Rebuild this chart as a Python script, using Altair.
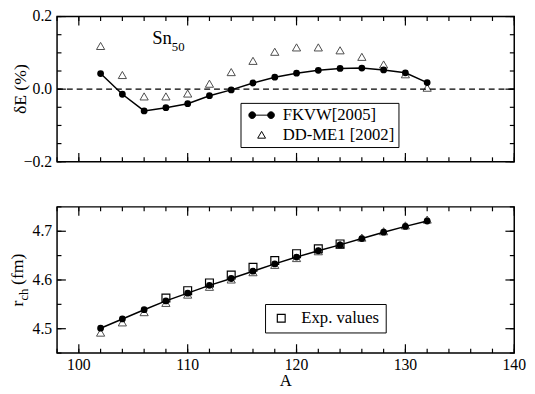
import altair as alt
import pandas as pd

# ---------------- data ----------------
A = [102, 104, 106, 108, 110, 112, 114, 116, 118, 120, 122, 124, 126, 128, 130, 132]
fkvw_dE = [0.043, -0.014, -0.060, -0.051, -0.040, -0.018, -0.002, 0.017, 0.033,
           0.044, 0.052, 0.057, 0.058, 0.053, 0.045, 0.018]
ddme1_dE = [0.119, 0.039, -0.020, -0.020, -0.012, 0.015, 0.047, 0.078, 0.103,
            0.115, 0.115, 0.107, 0.089, 0.068, 0.041, 0.004]
fkvw_r = [4.501, 4.520, 4.539, 4.557, 4.573, 4.589, 4.603, 4.618, 4.633,
          4.647, 4.660, 4.672, 4.685, 4.698, 4.710, 4.721]
ddme1_r = [4.492, 4.513, 4.534, 4.553, 4.570, 4.586, 4.601, 4.616, 4.631,
           4.645, 4.659, 4.672, 4.687, 4.700, 4.712, 4.724]
A_exp = [108, 110, 112, 114, 116, 118, 120, 122, 124]
exp_r = [4.563, 4.578, 4.594, 4.610, 4.626, 4.640, 4.654, 4.664, 4.674]

series_top = ["FKVW[2005]", "DD-ME1 [2002]"]
series_exp = ["Exp. values"]

x_dom = [98, 140]
y1_dom = [-0.2, 0.2]
y2_dom = [4.45, 4.75]
x_major = [100, 110, 120, 130, 140]
x_minor = [98, 100, 102, 104, 106, 108, 110, 112, 114, 116, 118, 120, 122, 124, 126,
           128, 130, 132, 134, 136, 138, 140]
y1_major = [-0.2, 0.0, 0.2]
y1_minor = [-0.2, -0.15, -0.1, -0.05, 0.0, 0.05, 0.1, 0.15, 0.2]
y2_major = [4.5, 4.6, 4.7]
y2_minor = [4.45, 4.5, 4.55, 4.6, 4.65, 4.7, 4.75]

# ---------------- layout constants ----------------
W = 466
H1 = 148
H2 = 149
FONT = "Liberation Serif"
MAJ = 9
MIN = 4.5

top = pd.DataFrame({"A": A, "fkvw": fkvw_dE, "dd": ddme1_dE})
bot = pd.DataFrame({"A": A, "fkvw": fkvw_r, "dd": ddme1_r})
exp = pd.DataFrame({"A": A_exp, "r": exp_r, "s": series_exp * len(A_exp)})
leg_df = pd.DataFrame({"s": series_top, "A": [A[0]] * 2, "v": [0.0] * 2})
one = pd.DataFrame({"k": [0]})

xs = alt.Scale(domain=x_dom, nice=False, zero=False)
ys1 = alt.Scale(domain=y1_dom, nice=False, zero=False)
ys2 = alt.Scale(domain=y2_dom, nice=False, zero=False)


def tick_layers(ys, ymaj, ymin, H):
    """Inward ticks on all four sides (rules placed through the scales)."""
    out = []
    for vals, ln in ((x_major, MAJ), (x_minor, MIN)):
        d = pd.DataFrame({"v": vals})
        for y0, y1 in ((H, H - ln), (0, ln)):
            out.append(alt.Chart(d).mark_rule(color="black", strokeWidth=1.2).encode(
                x=alt.X("v:Q", scale=xs, axis=None), y=alt.value(y0), y2=alt.value(y1)))
    for vals, ln in ((ymaj, MAJ), (ymin, MIN)):
        d = pd.DataFrame({"v": vals})
        for x0, x1 in ((0, ln), (W, W - ln)):
            out.append(alt.Chart(d).mark_rule(color="black", strokeWidth=1.2).encode(
                y=alt.Y("v:Q", scale=ys, axis=None), x=alt.value(x0), x2=alt.value(x1)))
    return out


def y_labels(ys, ymaj):
    d = pd.DataFrame({"t": ymaj})
    return alt.Chart(d).mark_text(font=FONT, fontSize=16, color="black", align="right",
                                  baseline="middle").encode(
        y=alt.Y("t:Q", scale=ys, axis=None), x=alt.value(-5),
        text=alt.Text("t:Q", format=".1f"))


def x_labels(H):
    d = pd.DataFrame({"t": x_major})
    return alt.Chart(d).mark_text(font=FONT, fontSize=16, color="black", align="center",
                                  baseline="top").encode(
        x=alt.X("t:Q", scale=xs, axis=None), y=alt.value(H + 4),
        text=alt.Text("t:Q", format="d"))


def text_layer(txt, x, y, size, angle=0, align="left", dx=0, dy=0):
    return alt.Chart(one).mark_text(
        text=txt, font=FONT, fontSize=size, color="black", angle=angle,
        align=align, baseline="alphabetic", dx=dx, dy=dy,
    ).encode(x=alt.value(x), y=alt.value(y))


# custom legend symbol: circle - line - circle
R = 0.85
C = 2.4
LINE_SYM = (
    f"M{-C},0L{C},0"
    f"M{-C - R},0A{R},{R},0,1,0,{-C + R},0A{R},{R},0,1,0,{-C - R},0Z"
    f"M{C - R},0A{R},{R},0,1,0,{C + R},0A{R},{R},0,1,0,{C - R},0Z"
)

leg_top = alt.Legend(
    title=None, orient="none", legendX=187, legendY=88, direction="vertical",
    strokeColor="black", fillColor="white", padding=4, cornerRadius=0,
    symbolSize=64, symbolStrokeColor="black", symbolStrokeWidth=1,
    symbolOffset=9, labelOffset=13, labelFont=FONT, labelFontSize=17,
    labelColor="black", rowPadding=2, labelLimit=400,
)
leg_bot = alt.Legend(
    title=None, orient="none", legendX=212, legendY=99, direction="vertical",
    strokeColor="black", fillColor="white", padding=6, cornerRadius=0,
    symbolSize=64, symbolStrokeColor="black", symbolStrokeWidth=1.2,
    symbolOffset=2, labelOffset=12, labelFont=FONT, labelFontSize=17,
    labelColor="black", labelLimit=400,
)

# ---------------- top panel ----------------
zero = alt.Chart(one).mark_rule(color="black", strokeDash=[6, 4], strokeWidth=1.2).encode(
    y=alt.Y("v:Q", scale=ys1, axis=None)
).transform_calculate(v="0")

tri_top = alt.Chart(top).mark_point(shape="triangle-up", filled=False, size=70,
                                    stroke="black", strokeWidth=1).encode(
    x=alt.X("A:Q", scale=xs, axis=None), y=alt.Y("dd:Q", scale=ys1, axis=None))
line_top = alt.Chart(top).mark_line(color="black", strokeWidth=1.5).encode(
    x=alt.X("A:Q", scale=xs, axis=None), y=alt.Y("fkvw:Q", scale=ys1, axis=None))
pts_top = alt.Chart(top).mark_point(shape="circle", filled=True, size=48, color="black",
                                    opacity=1).encode(
    x=alt.X("A:Q", scale=xs, axis=None), y=alt.Y("fkvw:Q", scale=ys1, axis=None))
legend_top = alt.Chart(leg_df).transform_filter("false").mark_point(
    filled=True, size=64, strokeWidth=1, opacity=1).encode(
    x=alt.X("A:Q", scale=xs, axis=None), y=alt.Y("v:Q", scale=ys1, axis=None),
    shape=alt.Shape("s:N", scale=alt.Scale(domain=series_top, range=[LINE_SYM, "triangle-up"]),
                    legend=leg_top),
    fill=alt.Fill("s:N", scale=alt.Scale(domain=series_top, range=["black", "white"]),
                  legend=leg_top),
    stroke=alt.Stroke("s:N", scale=alt.Scale(domain=series_top, range=["black", "black"]),
                      legend=leg_top),
)

top_chart = alt.layer(
    *tick_layers(ys1, y1_major, y1_minor, H1),
    y_labels(ys1, y1_major),
    zero, tri_top, line_top, pts_top, legend_top,
    text_layer("δE (%)", -32, H1 / 2, 18, angle=270, align="center"),
    text_layer("Sn", 97, 28, 19),
    text_layer("50", 97, 28, 13, dx=20, dy=7),
).properties(width=W, height=H1)

# ---------------- bottom panel ----------------
sq = alt.Chart(exp).mark_point(filled=False, size=64, stroke="black", strokeWidth=1.2,
                               opacity=1).encode(
    x=alt.X("A:Q", scale=xs, axis=None), y=alt.Y("r:Q", scale=ys2, axis=None),
    shape=alt.Shape("s:N", scale=alt.Scale(domain=series_exp, range=["square"]), legend=leg_bot),
)
tri_bot = alt.Chart(bot).mark_point(shape="triangle-up", filled=False, size=70,
                                    stroke="black", strokeWidth=1).encode(
    x=alt.X("A:Q", scale=xs, axis=None), y=alt.Y("dd:Q", scale=ys2, axis=None))
line_bot = alt.Chart(bot).mark_line(color="black", strokeWidth=1.5).encode(
    x=alt.X("A:Q", scale=xs, axis=None), y=alt.Y("fkvw:Q", scale=ys2, axis=None))
pts_bot = alt.Chart(bot).mark_point(shape="circle", filled=True, size=48, color="black",
                                    opacity=1).encode(
    x=alt.X("A:Q", scale=xs, axis=None), y=alt.Y("fkvw:Q", scale=ys2, axis=None))

bot_chart = alt.layer(
    *tick_layers(ys2, y2_major, y2_minor, H2),
    y_labels(ys2, y2_major),
    x_labels(H2),
    sq, tri_bot, line_bot, pts_bot,
    text_layer("r", -35, H2 / 2, 18, angle=270, dx=-27),
    text_layer("ch", -35, H2 / 2, 13, angle=270, dx=-21, dy=5),
    text_layer("(fm)", -35, H2 / 2, 18, angle=270, dx=-5),
    text_layer("A", W / 2, H2 + 34, 17, align="center"),
).properties(width=W, height=H2)

chart = alt.vconcat(top_chart, bot_chart, spacing=46, bounds="flush").resolve_scale(
    shape="independent", fill="independent", stroke="independent"
).resolve_legend(shape="independent", fill="independent", stroke="independent").properties(
    padding={"top": -4, "left": 0, "right": 0, "bottom": 0}, background="white"
).configure_view(stroke="black", strokeWidth=1.5).configure_legend(
    labelFont=FONT
).configure_text(font=FONT)

chart.save("out.html", embed_options={"renderer": "svg", "actions": False})
